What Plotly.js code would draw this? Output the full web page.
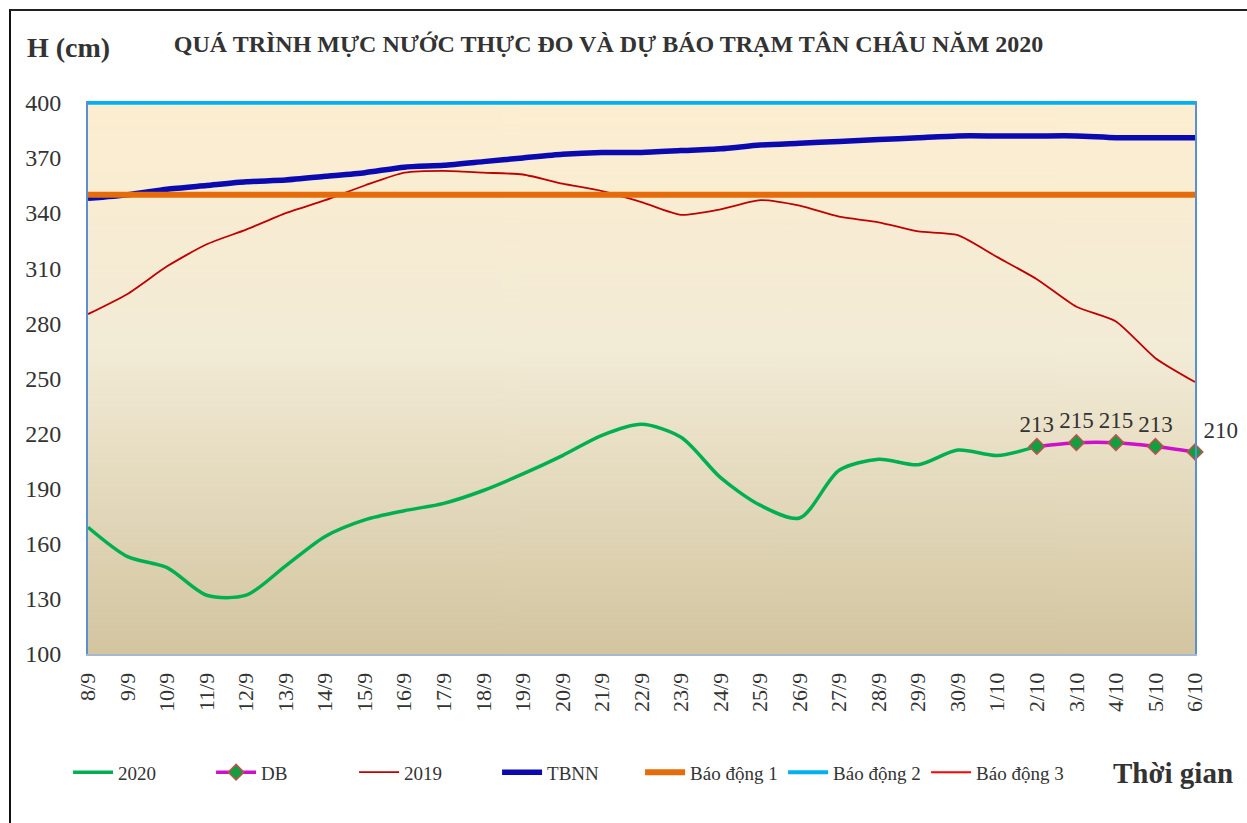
<!DOCTYPE html>
<html>
<head>
<meta charset="utf-8">
<script src="https://cdn.plot.ly/plotly-3.0.1.min.js"></script>
<style>
  html, body { margin: 0; padding: 0; background: #ffffff; }
  #chart { width: 1247px; height: 823px; position: relative; }
  #frame { position: absolute; left: 9px; top: 9px; width: 1250px; height: 830px;
           border-top: 2px solid #222; border-left: 2px solid #111; pointer-events: none; }
</style>
</head>
<body>
<div id="chart"></div>
<div id="frame"></div>
<script>
// ---- data ----
const categories = ["8/9","9/9","10/9","11/9","12/9","13/9","14/9","15/9","16/9","17/9",
  "18/9","19/9","20/9","21/9","22/9","23/9","24/9","25/9","26/9","27/9",
  "28/9","29/9","30/9","1/10","2/10","3/10","4/10","5/10","6/10"];

const h2020 = [169,153,147,132,132,148,164,173,178,182,
  189,198,208,219,225,218,196,181,174,200,
  206,203,211,208,213];

const dbCategories = ["2/10","3/10","4/10","5/10","6/10"];
const dbValues = [213,215,215,213,210];

const h2019 = [285,296,311,323,331,340,347,355,362,363,
  362,361,356,352,346,339,342,347,344,338,
  335,330,328,316,304,289,281,261,248];

const tbnn = [348,350,353,355,357,358,360,362,365,366,
  368,370,372,373,373,374,375,377,378,379,
  380,381,382,382,382,382,381,381,381];

const baoDong1 = 350;
const baoDong2 = 400;
const baoDong3 = 450;

const yTicks = [100,130,160,190,220,250,280,310,340,370,400];

// ---- helpers ----
const idx = c => categories.indexOf(c);
const xAll = categories.map((c,i)=>i);
const x2020 = h2020.map((v,i)=>i);
const xDb = dbCategories.map(idx);
const constLine = v => categories.map(()=>v);

// gradient background image for plot area
function gradientURL(){
  const cv = document.createElement('canvas');
  cv.width = 4; cv.height = 400;
  const ctx = cv.getContext('2d');
  const g = ctx.createLinearGradient(0,0,0,400);
  g.addColorStop(0,'#fdeed0');
  g.addColorStop(0.45,'#f2ebd6');
  g.addColorStop(1,'#d3c5a0');
  ctx.fillStyle = g; ctx.fillRect(0,0,4,400);
  return cv.toDataURL('image/png');
}

const serif = "Liberation Serif, Times New Roman, serif";

const traces = [
  { name:"2020", x:x2020, y:h2020, type:"scatter", mode:"lines",
    line:{color:"#00b050", width:3.5, shape:"spline", smoothing:0.8} },
  { name:"DB", x:xDb, y:dbValues, type:"scatter", mode:"lines+markers+text",
    line:{color:"#cc10cc", width:3.5, shape:"spline", smoothing:0.8},
    marker:{symbol:"diamond", size:12, color:"#10a040", line:{color:"#c0504d", width:1.5}},
    text:dbValues.map(String),
    textposition:["top center","top center","top center","top center","top right"],
    textfont:{family:serif, size:23, color:"#333333"}, cliponaxis:false },
  { name:"2019", x:xAll, y:h2019, type:"scatter", mode:"lines",
    line:{color:"#c00000", width:1.8, shape:"spline", smoothing:0.6} },
  { name:"TBNN", x:xAll, y:tbnn, type:"scatter", mode:"lines",
    line:{color:"#0a0ab0", width:5.5, shape:"spline", smoothing:0.6} },
  { name:"Báo động 1", x:xAll, y:constLine(baoDong1), type:"scatter", mode:"lines",
    line:{color:"#e46c0a", width:6} },
  { name:"Báo động 2", x:xAll, y:constLine(baoDong2), type:"scatter", mode:"lines",
    line:{color:"#00b0f0", width:4} },
  { name:"Báo động 3", x:xAll, y:constLine(baoDong3), type:"scatter", mode:"lines",
    line:{color:"#ff0000", width:2} }
];

const layout = {
  width:1247, height:823,
  margin:{l:88, r:52, t:101, b:169},
  paper_bgcolor:"#ffffff",
  plot_bgcolor:"rgba(0,0,0,0)",
  font:{family:serif, color:"#333333"},
  showlegend:true,
  title:{text:"<b>QUÁ TRÌNH MỰC NƯỚC THỰC ĐO VÀ DỰ BÁO TRẠM TÂN CHÂU NĂM 2020</b>",
         x:0.488, xanchor:"center", y:0.9465, yanchor:"middle",
         font:{family:serif, size:24, color:"#333333"}},
  xaxis:{
    range:[0,28], tickmode:"array", tickvals:xAll, ticktext:categories,
    tickangle:-90, tickfont:{family:serif, size:22, color:"#333333"},
    showgrid:false, zeroline:false, ticks:"outside", ticklen:8, tickcolor:"rgba(0,0,0,0)",
    showline:true, linecolor:"#a7b9d1", linewidth:2, mirror:false, fixedrange:true
  },
  yaxis:{
    range:[100,401], tickmode:"array", tickvals:yTicks,
    tickfont:{family:serif, size:24, color:"#333333"},
    showgrid:false, zeroline:false, ticks:"outside", ticklen:20, tickcolor:"rgba(0,0,0,0)",
    showline:true, linecolor:"#5b8fd0", linewidth:2, mirror:true, fixedrange:true
  },
  legend:{orientation:"h", x:-0.018, xanchor:"left", y:-0.214, yanchor:"middle",
    font:{family:serif, size:19, color:"#333333"},
    entrywidth:88, entrywidthmode:"pixels", itemwidth:40, bgcolor:"rgba(0,0,0,0)"},
  images:[{source:gradientURL(), xref:"paper", yref:"paper", x:0, y:1, sizex:1, sizey:1,
    sizing:"stretch", layer:"below", xanchor:"left", yanchor:"top"}],
  annotations:[
    {text:"<b>H (cm)</b>", xref:"paper", yref:"paper", x:-0.057, y:1.0976,
     xanchor:"left", yanchor:"middle", showarrow:false,
     font:{family:serif, size:28, color:"#333333"}},
    {text:"<b>Thời gian</b>", xref:"paper", yref:"paper", x:1.036, y:-0.215,
     xanchor:"right", yanchor:"middle", showarrow:false,
     font:{family:serif, size:29, color:"#333333"}}
  ]
};

Plotly.newPlot("chart", traces, layout, {displayModeBar:false, staticPlot:true});
</script>
</body>
</html>
